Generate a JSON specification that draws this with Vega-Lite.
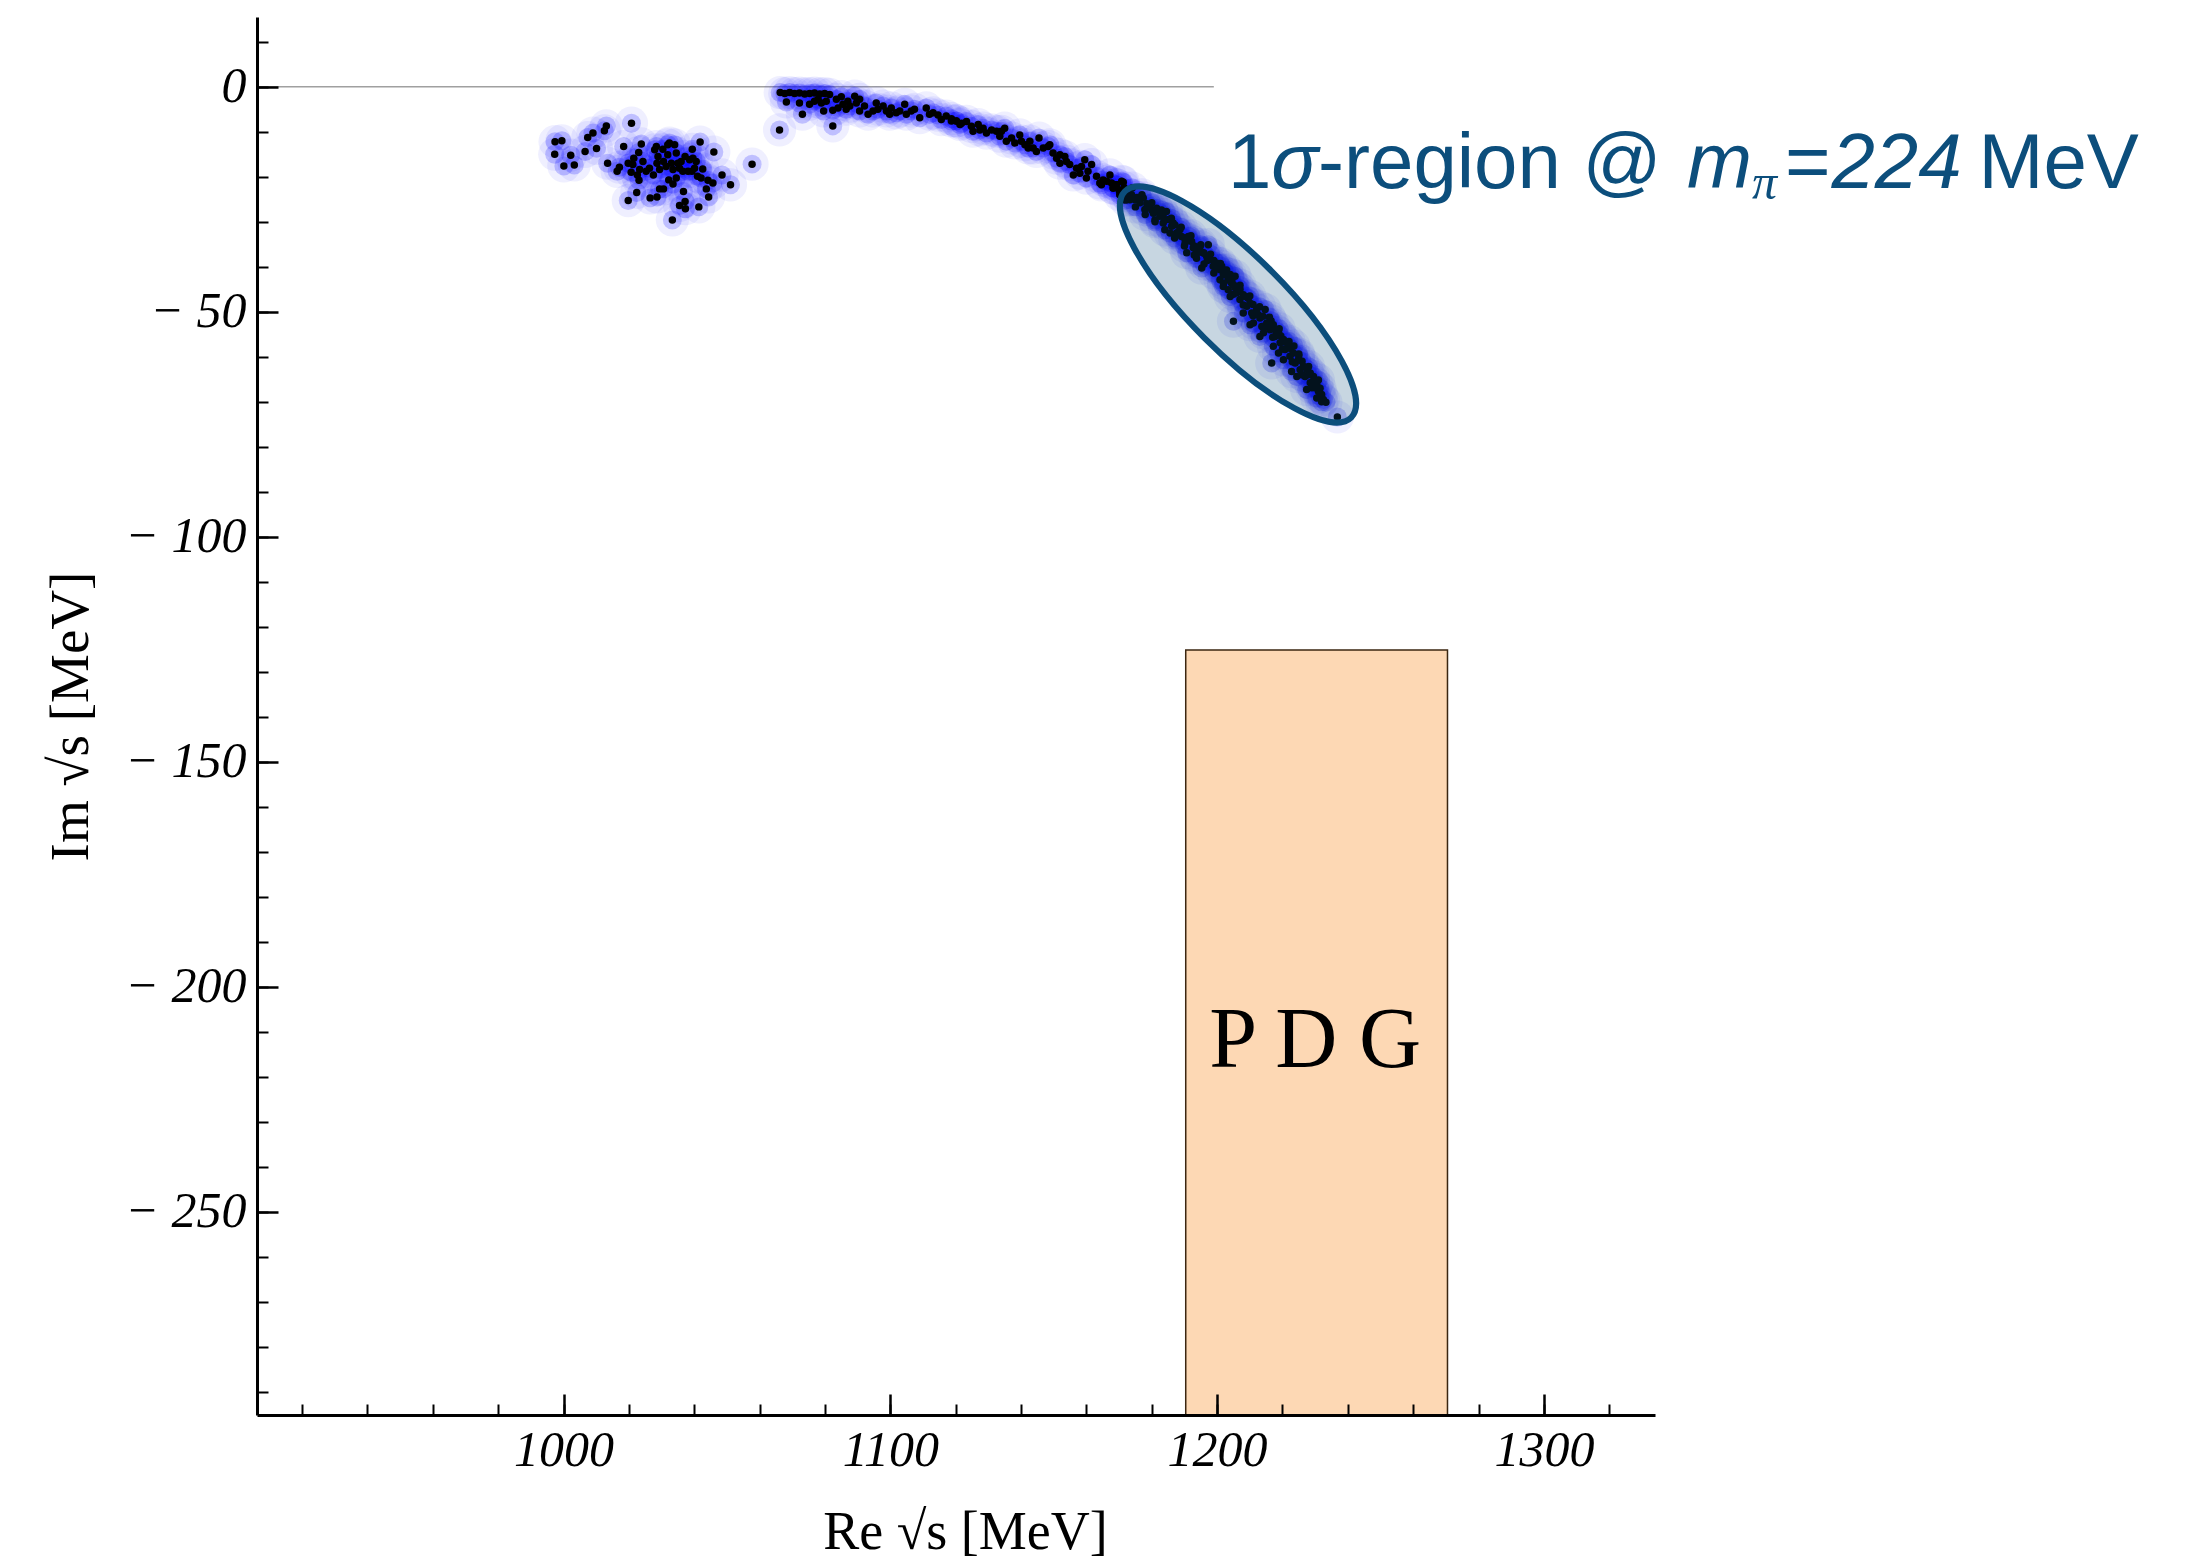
{
"$schema": "https://vega.github.io/schema/vega-lite/v6.json",
"width": 1398, "height": 1398,
"autosize": {"type": "none"},
"padding": {"left": 257, "top": 17, "right": 538, "bottom": 147},
"background": "white",
"config": {"view": {"stroke": null}},
"datasets": {
"pdg": [{"x1": 1190.4, "x2": 1270.5, "y1": -125.2, "y2": -300, "label": "P D G", "lx": 1230, "ly": -212}],
"zero": [{"x1": 906.2, "x2": 1199, "y": 0}],
"ell": [{"cx": 1206.4, "cy": -48.4}],
"txtN": [{"t": "1", "x": 1203.3, "y": -22.4}, {"t": "-region @", "x": 1230.9, "y": -22.4}, {"t": "=", "x": 1373.8, "y": -22.4}, {"t": "MeV", "x": 1433.0, "y": -22.4}],
"txtI": [{"t": "σ", "x": 1216.6, "y": -22.4}, {"t": "m", "x": 1343.8, "y": -22.4}, {"t": "224", "x": 1388.0, "y": -22.4}],
"txtS": [{"t": "π", "x": 1363.7, "y": -25.0}],
"pts": [
{"re":997.4,"im":-12.2},{"re":999.5,"im":-12.0},{"re":997.3,"im":-15.0},{"re":1002.2,"im":-15.2},{"re":1000.1,"im":-17.6},{"re":1003.3,"im":-17.4},{"re":1007.4,"im":-11.3},{"re":1009.0,"im":-10.3},{"re":1012.5,"im":-9.8},{"re":1013.1,"im":-8.7},{"re":1006.6,"im":-14.4},{"re":1010.1,"im":-13.7},{"re":1020.8,"im":-8.1},{"re":1018.4,"im":-13.3},{"re":1023.8,"im":-12.7},{"re":1013.5,"im":-17.0},{"re":1016.4,"im":-18.8},{"re":1017.1,"im":-17.9},{"re":1019.8,"im":-17.0},{"re":1021.5,"im":-15.9},{"re":1023.0,"im":-14.6},{"re":1020.7,"im":-19.0},{"re":1022.6,"im":-19.6},{"re":1023.1,"im":-20.8},{"re":1022.4,"im":-23.5},{"re":1019.8,"im":-25.3},{"re":1021.2,"im":-17.3},{"re":1024.3,"im":-16.6},{"re":1025.3,"im":-18.8},{"re":1027.9,"im":-14.0},{"re":1028.4,"im":-13.3},{"re":1028.9,"im":-15.5},{"re":1028.6,"im":-17.0},{"re":1030.4,"im":-13.9},{"re":1031.9,"im":-12.9},{"re":1032.4,"im":-12.5},{"re":1034.0,"im":-12.9},{"re":1034.5,"im":-14.7},{"re":1030.6,"im":-16.6},{"re":1029.4,"im":-18.4},{"re":1031.4,"im":-17.7},{"re":1033.0,"im":-17.0},{"re":1033.5,"im":-18.4},{"re":1035.0,"im":-17.0},{"re":1036.0,"im":-16.6},{"re":1037.2,"im":-15.5},{"re":1038.6,"im":-16.2},{"re":1039.6,"im":-15.9},{"re":1040.6,"im":-16.6},{"re":1039.4,"im":-13.9},{"re":1041.8,"im":-12.3},{"re":1046.0,"im":-14.5},{"re":1036.5,"im":-18.8},{"re":1038.1,"im":-18.8},{"re":1039.3,"im":-18.8},{"re":1040.1,"im":-18.1},{"re":1041.0,"im":-19.9},{"re":1042.6,"im":-18.3},{"re":1042.1,"im":-20.3},{"re":1044.2,"im":-20.8},{"re":1045.7,"im":-21.4},{"re":1048.5,"im":-19.6},{"re":1051.1,"im":-21.8},{"re":1043.7,"im":-22.7},{"re":1044.4,"im":-24.5},{"re":1036.7,"im":-23.3},{"re":1037.2,"im":-25.5},{"re":1035.5,"im":-26.4},{"re":1037.3,"im":-27.1},{"re":1041.4,"im":-26.7},{"re":1033.3,"im":-29.6},{"re":1032.2,"im":-20.7},{"re":1033.5,"im":-21.6},{"re":1034.5,"im":-20.3},{"re":1029.4,"im":-22.7},{"re":1030.6,"im":-22.7},{"re":1026.5,"im":-24.7},{"re":1028.6,"im":-24.5},{"re":1057.7,"im":-17.2},{"re":1026.3,"im":-18.1},{"re":1027.5,"im":-19.6},{"re":1023.3,"im":-18.4},{"re":1031.9,"im":-15.1},{"re":1035.5,"im":-18.1},
{"re":1066.3,"im":-1.3},{"re":1067.7,"im":-1.5},{"re":1069.2,"im":-1.3},{"re":1070.7,"im":-1.5},{"re":1072.2,"im":-1.4},{"re":1073.8,"im":-1.6},{"re":1075.3,"im":-1.5},{"re":1076.8,"im":-1.4},{"re":1078.4,"im":-1.6},{"re":1079.9,"im":-1.5},{"re":1081.4,"im":-1.7},{"re":1068.2,"im":-3.4},{"re":1072.2,"im":-3.6},{"re":1075.3,"im":-3.9},{"re":1076.8,"im":-3.2},{"re":1077.9,"im":-2.8},{"re":1078.9,"im":-3.6},{"re":1080.4,"im":-3.2},{"re":1073.1,"im":-6.1},{"re":1066.1,"im":-9.6},{"re":1082.4,"im":-8.7},{"re":1079.6,"im":-5.4},{"re":1082.4,"im":-5.2},{"re":1085.0,"im":-2.2},{"re":1085.5,"im":-3.9},{"re":1084.0,"im":-4.7},{"re":1087.0,"im":-3.2},{"re":1087.6,"im":-4.3},{"re":1089.1,"im":-2.1},{"re":1089.6,"im":-3.6},{"re":1090.6,"im":-2.8},{"re":1090.6,"im":-5.4},{"re":1092.1,"im":-4.3},{"re":1093.2,"im":-6.1},{"re":1095.7,"im":-3.6},{"re":1096.2,"im":-5.0},{"re":1097.8,"im":-4.3},{"re":1098.8,"im":-5.4},{"re":1100.3,"im":-4.7},{"re":1101.8,"im":-5.8},{"re":1102.9,"im":-5.4},{"re":1104.4,"im":-3.9},{"re":1104.9,"im":-6.1},{"re":1106.4,"im":-5.4},{"re":1107.4,"im":-5.0},{"re":1109.0,"im":-6.9},{"re":1111.0,"im":-4.7},{"re":1112.0,"im":-6.1},{"re":1113.1,"im":-5.8},{"re":1114.6,"im":-6.3},{"re":1115.6,"im":-7.3},{"re":1117.1,"im":-6.5},{"re":1118.7,"im":-7.6},{"re":1120.2,"im":-7.6},{"re":1083.5,"im":-2.8},{"re":1086.5,"im":-5.0},{"re":1094.7,"im":-5.4},{"re":1099.8,"im":-6.1},
{"re":1118.7,"im":-7.1},{"re":1120.2,"im":-7.6},{"re":1121.8,"im":-8.1},{"re":1123.3,"im":-7.7},{"re":1124.8,"im":-8.8},{"re":1125.3,"im":-9.9},{"re":1126.9,"im":-8.4},{"re":1128.4,"im":-9.2},{"re":1129.4,"im":-10.3},{"re":1131.0,"im":-9.6},{"re":1132.5,"im":-9.9},{"re":1133.5,"im":-11.0},{"re":1135.0,"im":-9.2},{"re":1135.5,"im":-12.1},{"re":1137.1,"im":-11.4},{"re":1138.1,"im":-12.5},{"re":1139.6,"im":-10.7},{"re":1140.1,"im":-12.1},{"re":1141.2,"im":-12.9},{"re":1142.7,"im":-12.1},{"re":1143.7,"im":-13.6},{"re":1144.7,"im":-14.4},{"re":1145.5,"im":-11.4},{"re":1146.8,"im":-13.6},{"re":1148.3,"im":-13.3},{"re":1148.8,"im":-12.9},{"re":1149.8,"im":-14.7},{"re":1150.9,"im":-15.9},{"re":1151.9,"im":-15.1},{"re":1153.4,"im":-15.5},{"re":1153.9,"im":-16.6},{"re":1154.9,"im":-17.3},{"re":1156.0,"im":-19.6},{"re":1157.0,"im":-18.1},{"re":1158.5,"im":-17.7},{"re":1159.5,"im":-16.2},{"re":1160.0,"im":-20.3},{"re":1160.5,"im":-18.8},{"re":1161.6,"im":-17.3},{"re":1163.1,"im":-19.9},{"re":1164.1,"im":-21.4},{"re":1165.1,"im":-20.7},{"re":1166.2,"im":-21.0},{"re":1167.2,"im":-19.6},{"re":1168.2,"im":-22.5},{"re":1169.2,"im":-21.8},{"re":1170.2,"im":-24.0},{"re":1171.3,"im":-21.2},{"re":1121.3,"im":-8.4},{"re":1127.4,"im":-9.6},{"re":1134.0,"im":-9.9},{"re":1142.2,"im":-13.6},{"re":1151.9,"im":-17.0},{"re":1158.0,"im":-19.2},{"re":1164.6,"im":-21.8},
{"re":1167.7,"im":-21.4},{"re":1169.2,"im":-21.8},{"re":1170.8,"im":-21.0},{"re":1168.2,"im":-22.5},{"re":1173.8,"im":-24.0},{"re":1174.9,"im":-25.1},{"re":1176.4,"im":-25.8},{"re":1177.4,"im":-24.7},{"re":1177.9,"im":-27.3},{"re":1179.4,"im":-26.6},{"re":1180.5,"im":-28.1},{"re":1181.5,"im":-27.0},{"re":1182.5,"im":-28.8},{"re":1183.5,"im":-30.3},{"re":1184.5,"im":-27.7},{"re":1185.1,"im":-29.5},{"re":1186.1,"im":-31.0},{"re":1187.1,"im":-30.7},{"re":1187.6,"im":-32.5},{"re":1188.6,"im":-31.8},{"re":1189.1,"im":-33.3},{"re":1190.2,"im":-34.7},{"re":1191.2,"im":-33.3},{"re":1192.2,"im":-34.4},{"re":1192.7,"im":-35.8},{"re":1193.7,"im":-36.6},{"re":1194.8,"im":-35.5},{"re":1195.8,"im":-36.9},{"re":1196.8,"im":-37.7},{"re":1197.3,"im":-35.1},{"re":1197.8,"im":-38.4},{"re":1198.8,"im":-39.9},{"re":1199.9,"im":-39.2},{"re":1200.9,"im":-40.7},{"re":1201.9,"im":-41.8},{"re":1202.9,"im":-40.7},{"re":1203.4,"im":-42.9},{"re":1204.4,"im":-43.6},{"re":1205.5,"im":-42.1},{"re":1206.5,"im":-44.7},{"re":1195.3,"im":-40.3},{"re":1190.7,"im":-36.9},{"re":1181.0,"im":-29.6},{"re":1185.6,"im":-32.5},{"re":1200.9,"im":-42.9},{"re":1173.3,"im":-25.1},{"re":1183.5,"im":-28.4},{"re":1193.7,"im":-38.1},{"re":1203.4,"im":-45.1},
{"re":1201.4,"im":-39.9},{"re":1202.4,"im":-41.4},{"re":1203.4,"im":-42.9},{"re":1201.9,"im":-44.4},{"re":1205.0,"im":-44.0},{"re":1206.0,"im":-45.8},{"re":1207.0,"im":-47.3},{"re":1208.6,"im":-46.6},{"re":1209.1,"im":-48.8},{"re":1210.1,"im":-48.1},{"re":1210.6,"im":-50.3},{"re":1212.1,"im":-49.5},{"re":1213.1,"im":-51.4},{"re":1213.7,"im":-53.3},{"re":1214.7,"im":-49.5},{"re":1215.2,"im":-52.5},{"re":1216.2,"im":-54.0},{"re":1217.2,"im":-52.9},{"re":1217.7,"im":-55.5},{"re":1218.8,"im":-54.7},{"re":1219.3,"im":-56.9},{"re":1220.3,"im":-56.2},{"re":1220.8,"im":-58.4},{"re":1221.8,"im":-57.7},{"re":1222.3,"im":-59.9},{"re":1223.3,"im":-59.2},{"re":1223.9,"im":-61.4},{"re":1224.9,"im":-60.7},{"re":1225.4,"im":-62.9},{"re":1226.4,"im":-62.1},{"re":1226.9,"im":-64.4},{"re":1227.9,"im":-64.0},{"re":1228.5,"im":-65.8},{"re":1229.5,"im":-65.5},{"re":1230.0,"im":-66.9},{"re":1231.0,"im":-67.7},{"re":1231.5,"im":-68.8},{"re":1232.5,"im":-69.5},{"re":1233.3,"im":-70.1},{"re":1213.1,"im":-55.5},{"re":1218.8,"im":-59.2},{"re":1222.8,"im":-63.3},{"re":1205.0,"im":-52.1},{"re":1210.1,"im":-52.9},{"re":1216.7,"im":-61.4},{"re":1236.8,"im":-73.4},{"re":1204.0,"im":-46.6},{"re":1208.0,"im":-50.3},{"re":1211.1,"im":-52.5},{"re":1214.2,"im":-54.7},{"re":1217.2,"im":-57.7},{"re":1220.3,"im":-60.7},{"re":1224.4,"im":-64.4},{"re":1227.4,"im":-67.3},{"re":1230.5,"im":-69.2},
{"re":1170.0,"im":-23.0},{"re":1171.5,"im":-22.4},{"re":1172.5,"im":-24.2},{"re":1175.5,"im":-24.6},{"re":1178.5,"im":-26.0},{"re":1180.0,"im":-27.4},{"re":1182.0,"im":-27.8},{"re":1184.0,"im":-29.6},{"re":1186.5,"im":-30.2},{"re":1188.0,"im":-32.4},{"re":1190.0,"im":-33.6},{"re":1191.5,"im":-34.0},{"re":1193.0,"im":-35.4},{"re":1194.5,"im":-36.8},{"re":1196.0,"im":-37.0},{"re":1197.0,"im":-38.6},{"re":1199.0,"im":-38.6},{"re":1200.0,"im":-40.4},{"re":1202.0,"im":-40.8},{"re":1203.0,"im":-41.6},{"re":1204.5,"im":-43.0},{"re":1205.5,"im":-44.6},{"re":1207.0,"im":-45.0},{"re":1208.0,"im":-46.2},{"re":1209.5,"im":-47.0},{"re":1211.0,"im":-48.4},{"re":1212.5,"im":-50.6},{"re":1214.0,"im":-51.0},{"re":1215.5,"im":-53.4},{"re":1216.5,"im":-52.0},{"re":1218.0,"im":-54.2},{"re":1219.5,"im":-55.4},{"re":1221.0,"im":-56.8},{"re":1222.5,"im":-58.2},{"re":1223.5,"im":-57.6},{"re":1225.0,"im":-59.8},{"re":1226.0,"im":-61.0},{"re":1227.5,"im":-62.8},{"re":1228.5,"im":-63.6},{"re":1229.5,"im":-64.4},{"re":1230.5,"im":-66.2},{"re":1231.5,"im":-67.0},{"re":1232.0,"im":-68.4},
{"re":1172.0,"im":-25.2},{"re":1175.0,"im":-26.7},{"re":1178.0,"im":-28.4},{"re":1181.0,"im":-30.0},{"re":1184.0,"im":-31.8},{"re":1187.0,"im":-33.6},{"re":1190.0,"im":-35.4},{"re":1193.0,"im":-37.4},{"re":1196.0,"im":-39.4},{"re":1199.0,"im":-41.4},{"re":1202.0,"im":-43.7},{"re":1205.0,"im":-46.1},{"re":1208.0,"im":-48.5},{"re":1211.0,"im":-50.9},{"re":1214.0,"im":-53.3},{"re":1217.0,"im":-55.7},{"re":1220.0,"im":-58.3},{"re":1223.0,"im":-61.1},{"re":1226.0,"im":-64.0},{"re":1229.0,"im":-66.9},{"re":1232.0,"im":-70.0},
{"re":1174.0,"im":-22.5},{"re":1177.0,"im":-24.0},{"re":1180.0,"im":-25.8},{"re":1183.0,"im":-27.4},{"re":1186.0,"im":-29.2},{"re":1189.0,"im":-31.2},{"re":1192.0,"im":-33.1},{"re":1195.0,"im":-35.1},{"re":1198.0,"im":-37.2},{"re":1201.0,"im":-39.3},{"re":1204.0,"im":-41.7},{"re":1207.0,"im":-44.1},{"re":1210.0,"im":-46.5},{"re":1213.0,"im":-48.9},{"re":1216.0,"im":-51.2},{"re":1219.0,"im":-53.8},{"re":1222.0,"im":-56.6},{"re":1225.0,"im":-59.4},{"re":1228.0,"im":-62.2},{"re":1231.0,"im":-65.2}
]
},
"layer": [
{
"data": {"name": "pdg"},
"mark": {"type": "rect", "fill": "#fdd8b4", "stroke": "#3b2611", "strokeWidth": 1.5, "clip": true},
"encoding": {
"x": {"field": "x1", "type": "quantitative", "scale": {"domain": [906.2, 1334], "nice": false, "zero": false},
"axis": {"orient": "bottom", "values": [920,940,960,980,1000,1020,1040,1060,1080,1100,1120,1140,1160,1180,1200,1220,1240,1260,1280,1300,1320], "tickSize": -11, "tickWidth": 2, "tickColor": "black", "labels": false, "domain": false, "grid": false, "title": null, "zindex": 1}},
"x2": {"field": "x2"},
"y": {"field": "y1", "type": "quantitative", "scale": {"domain": [-295.2, 15.5], "nice": false, "zero": false},
"axis": {"orient": "left", "values": [-290,-280,-270,-260,-250,-240,-230,-220,-210,-200,-190,-180,-170,-160,-150,-140,-130,-120,-110,-100,-90,-80,-70,-60,-50,-40,-30,-20,-10,0,10], "tickSize": -11, "tickWidth": 2, "tickColor": "black", "labels": false, "domain": false, "grid": false, "title": null, "zindex": 1}},
"y2": {"field": "y2"}
}
},
{
"data": {"name": "zero"},
"mark": {"type": "rule", "color": "#a0a0a0", "strokeWidth": 1.5},
"encoding": {
"x": {"field": "x1", "type": "quantitative", "scale": {"domain": [906.2, 1334], "nice": false, "zero": false}, "axis": null},
"x2": {"field": "x2"},
"y": {"field": "y", "type": "quantitative", "scale": {"domain": [-295.2, 15.5], "nice": false, "zero": false}, "axis": null}
}
},
{
"data": {"name": "pts"},
"mark": {"type": "point", "shape": "circle", "filled": true, "color": "#2020ff", "opacity": 0.07, "size": 1100},
"encoding": {
"x": {"field": "re", "type": "quantitative", "scale": {"domain": [906.2, 1334], "nice": false, "zero": false}, "axis": null},
"y": {"field": "im", "type": "quantitative", "scale": {"domain": [-295.2, 15.5], "nice": false, "zero": false}, "axis": null}
}
},
{
"data": {"name": "pts"},
"mark": {"type": "point", "shape": "circle", "filled": true, "color": "#0000ff", "opacity": 0.2, "size": 360},
"encoding": {
"x": {"field": "re", "type": "quantitative", "scale": {"domain": [906.2, 1334], "nice": false, "zero": false}, "axis": null},
"y": {"field": "im", "type": "quantitative", "scale": {"domain": [-295.2, 15.5], "nice": false, "zero": false}, "axis": null}
}
},
{
"data": {"name": "pts"},
"mark": {"type": "point", "shape": "circle", "filled": true, "color": "#000000", "opacity": 1, "size": 56},
"encoding": {
"x": {"field": "re", "type": "quantitative", "scale": {"domain": [906.2, 1334], "nice": false, "zero": false},
"axis": {"orient": "bottom", "values": [1000, 1100, 1200, 1300], "format": "d", "tickSize": -21, "tickWidth": 2.5, "tickColor": "black", "domain": true, "domainWidth": 3, "domainColor": "black", "grid": false, "labelFont": "Liberation Serif", "labelFontStyle": "italic", "labelFontSize": 50, "labelColor": "black", "labelPadding": 31, "labelFlush": false, "labelOverlap": false, "title": "Re √s [MeV]", "titleFont": "Liberation Serif", "titleFontWeight": "normal", "titleFontSize": 54, "titleColor": "black", "titleX": 708, "titleY": 117, "titleBaseline": "middle", "titleAlign": "center", "zindex": 1}},
"y": {"field": "im", "type": "quantitative", "scale": {"domain": [-295.2, 15.5], "nice": false, "zero": false},
"axis": {"orient": "left", "values": [-250, -200, -150, -100, -50, 0], "labelExpr": "datum.value < 0 ? '− ' + format(-datum.value, 'd') : format(datum.value, 'd')", "tickSize": -21, "tickWidth": 2.5, "tickColor": "black", "domain": true, "domainWidth": 3, "domainColor": "black", "grid": false, "labelFont": "Liberation Serif", "labelFontStyle": "italic", "labelFontSize": 50, "labelColor": "black", "labelPadding": 32, "labelFlush": false, "labelOverlap": false, "title": "Im √s [MeV]", "titleFont": "Liberation Serif", "titleFontWeight": "normal", "titleFontSize": 55, "titleColor": "black", "titleX": -187, "titleY": 699, "titleAngle": -90, "titleBaseline": "middle", "titleAlign": "center", "zindex": 1}}
}
},
{
"data": {"name": "ell"},
"mark": {"type": "point", "shape": "M -1 0 A 1 0.296 0 1 1 1 0 A 1 0.296 0 1 1 -1 0 Z", "size": 102400, "angle": 45, "filled": true, "fill": "#0c4e7c", "fillOpacity": 0.23, "stroke": "#0c4e7c", "strokeWidth": 6, "strokeOpacity": 1, "opacity": 1},
"encoding": {
"x": {"field": "cx", "type": "quantitative", "scale": {"domain": [906.2, 1334], "nice": false, "zero": false}, "axis": null},
"y": {"field": "cy", "type": "quantitative", "scale": {"domain": [-295.2, 15.5], "nice": false, "zero": false}, "axis": null}
}
},
{
"data": {"name": "pdg"},
"mark": {"type": "text", "font": "Liberation Serif", "fontSize": 86, "color": "black", "align": "center", "baseline": "middle"},
"encoding": {
"x": {"field": "lx", "type": "quantitative", "scale": {"domain": [906.2, 1334], "nice": false, "zero": false}, "axis": null},
"y": {"field": "ly", "type": "quantitative", "scale": {"domain": [-295.2, 15.5], "nice": false, "zero": false}, "axis": null},
"text": {"field": "label"}
}
},
{
"data": {"name": "txtN"},
"mark": {"type": "text", "font": "Liberation Sans", "fontSize": 78, "color": "#0c4e7c", "align": "left", "baseline": "alphabetic"},
"encoding": {
"x": {"field": "x", "type": "quantitative", "scale": {"domain": [906.2, 1334], "nice": false, "zero": false}, "axis": null},
"y": {"field": "y", "type": "quantitative", "scale": {"domain": [-295.2, 15.5], "nice": false, "zero": false}, "axis": null},
"text": {"field": "t"}
}
},
{
"data": {"name": "txtI"},
"mark": {"type": "text", "font": "Liberation Sans", "fontSize": 78, "fontStyle": "italic", "color": "#0c4e7c", "align": "left", "baseline": "alphabetic"},
"encoding": {
"x": {"field": "x", "type": "quantitative", "scale": {"domain": [906.2, 1334], "nice": false, "zero": false}, "axis": null},
"y": {"field": "y", "type": "quantitative", "scale": {"domain": [-295.2, 15.5], "nice": false, "zero": false}, "axis": null},
"text": {"field": "t"}
}
},
{
"data": {"name": "txtS"},
"mark": {"type": "text", "font": "Liberation Serif", "fontSize": 50, "fontStyle": "italic", "color": "#0c4e7c", "align": "left", "baseline": "alphabetic"},
"encoding": {
"x": {"field": "x", "type": "quantitative", "scale": {"domain": [906.2, 1334], "nice": false, "zero": false}, "axis": null},
"y": {"field": "y", "type": "quantitative", "scale": {"domain": [-295.2, 15.5], "nice": false, "zero": false}, "axis": null},
"text": {"field": "t"}
}
}
],
"resolve": {"scale": {"x": "shared", "y": "shared"}, "axis": {"x": "independent", "y": "independent"}}
}
